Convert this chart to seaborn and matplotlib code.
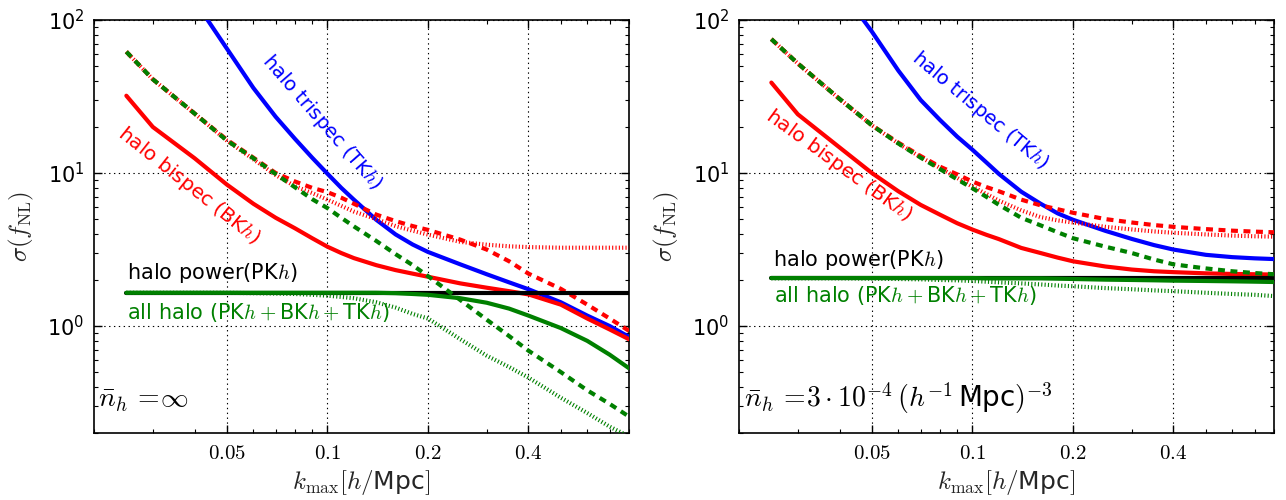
import numpy as np
import pandas as pd
import matplotlib
matplotlib.use("Agg")
import matplotlib.pyplot as plt
import seaborn as sns
from matplotlib.ticker import FixedLocator, FixedFormatter, LogLocator, NullFormatter

# ---------------- data ----------------
k = [0.025, 0.03, 0.04, 0.05, 0.06, 0.07, 0.08, 0.09, 0.1, 0.11, 0.12, 0.14, 0.16, 0.18,
     0.2, 0.25, 0.3, 0.35, 0.4, 0.5, 0.6, 0.7, 0.8]

# left panel: nbar_h = infinity
L_tk       = [600, 336, 134, 65, 36, 23.3, 16.7, 12.6, 9.9, 8.0, 6.7, 4.95, 3.97, 3.41,
              3.05, 2.53, 2.18, 1.93, 1.74, 1.43, 1.17, 1.0, 0.85]
L_bk       = [32, 20, 12.5, 8.4, 6.3, 5.1, 4.35, 3.75, 3.3, 3.0, 2.78, 2.5, 2.32, 2.2,
              2.1, 1.9, 1.78, 1.69, 1.61, 1.38, 1.12, 0.95, 0.82]
L_bk_dash  = [62, 41, 24.5, 16.5, 12.6, 10.0, 8.8, 8.0, 7.5, 6.9, 6.3, 5.35, 4.85, 4.5,
              4.25, 3.67, 3.16, 2.65, 2.2, 1.75, 1.38, 1.12, 0.93]
L_bk_dot   = [62, 41, 24.5, 16.3, 12.3, 9.7, 8.2, 7.4, 6.7, 6.1, 5.6, 5.0, 4.5, 4.2,
              3.96, 3.55, 3.4, 3.32, 3.28, 3.25, 3.25, 3.25, 3.25]
L_pk       = [1.65] * 23
L_all      = [1.65, 1.65, 1.65, 1.65, 1.65, 1.65, 1.65, 1.65, 1.65, 1.65, 1.65, 1.65, 1.64, 1.62,
              1.6, 1.52, 1.42, 1.3, 1.17, 0.97, 0.8, 0.65, 0.53]
L_all_dash = [62, 41, 24.5, 16.3, 12.5, 9.85, 8.06, 6.75, 5.9, 5.1, 4.48, 3.6, 2.95, 2.5,
              2.12, 1.48, 1.1, 0.86, 0.69, 0.5, 0.38, 0.31, 0.256]
L_all_dot  = [1.65, 1.65, 1.65, 1.65, 1.64, 1.63, 1.62, 1.6, 1.58, 1.55, 1.52, 1.43, 1.32, 1.2,
              1.12, 0.82, 0.64, 0.54, 0.46, 0.34, 0.27, 0.22, 0.19]

# right panel: nbar_h = 3e-4 (h^-1 Mpc)^-3
R_tk       = [700, 396, 163, 84, 46.7, 30.0, 22.2, 17.3, 14.2, 11.75, 9.87, 7.55, 6.3, 5.45,
              4.95, 4.19, 3.71, 3.38, 3.16, 2.92, 2.82, 2.77, 2.74]
R_bk       = [39, 24.2, 14.7, 10, 7.6, 6.19, 5.34, 4.7, 4.27, 3.95, 3.7, 3.24, 3.0, 2.8,
              2.65, 2.45, 2.34, 2.28, 2.25, 2.21, 2.19, 2.18, 2.17]
R_bk_dash  = [75, 52, 30.5, 20.5, 15.8, 12.9, 11.0, 9.8, 8.8, 8.1, 7.6, 6.7, 6.15, 5.8,
              5.5, 5.0, 4.75, 4.57, 4.45, 4.3, 4.2, 4.14, 4.1]
R_bk_dot   = [75, 52, 30.5, 20.5, 15.6, 12.7, 10.8, 9.3, 8.15, 7.3, 6.6, 5.7, 5.15, 4.9,
              4.75, 4.45, 4.28, 4.15, 4.07, 3.97, 3.9, 3.86, 3.84]
R_pk       = [2.07] * 23
R_all      = [2.06, 2.06, 2.06, 2.06, 2.06, 2.06, 2.06, 2.06, 2.06, 2.05, 2.05, 2.05, 2.05, 2.04,
              2.03, 2.01, 2.0, 1.99, 1.98, 1.97, 1.96, 1.95, 1.94]
R_all_dash = [75, 52, 30.5, 20.5, 15.6, 12.6, 10.6, 9.1, 7.95, 7.0, 6.2, 5.1, 4.55, 4.1,
              3.75, 3.3, 3.0, 2.72, 2.53, 2.38, 2.28, 2.22, 2.18]
R_all_dot  = [2.05, 2.05, 2.05, 2.04, 2.03, 2.02, 2.0, 1.99, 1.97, 1.95, 1.93, 1.9, 1.87, 1.84,
              1.82, 1.77, 1.74, 1.71, 1.69, 1.65, 1.62, 1.6, 1.57]

xtick_vals = [0.05, 0.1, 0.2, 0.4]
xtick_labels = ["$0.05$", "$0.1$", "$0.2$", "$0.4$"]

panels = [
    dict(tk=L_tk, bk=L_bk, bkd=L_bk_dash, bko=L_bk_dot, pk=L_pk, al=L_all, ald=L_all_dash, alo=L_all_dot,
         nbar=r"$\bar{n}_h\,=\!\infty$"),
    dict(tk=R_tk, bk=R_bk, bkd=R_bk_dash, bko=R_bk_dot, pk=R_pk, al=R_all, ald=R_all_dash, alo=R_all_dot,
         nbar=r"$\bar{n}_h\,=\!3\cdot 10^{-4}\,(h^{-1}\,$Mpc$)^{-3}$"),
]

# text placement (axes fraction) per panel
txt = [
    dict(tk=(0.426, 0.753, -49), bk=(0.178, 0.598, -38.5), pw=(0.062, 0.387), al=(0.062, 0.291), nb=(0.008, 0.08)),
    dict(tk=(0.45, 0.782, -40), bk=(0.186, 0.649, -36), pw=(0.063, 0.419), al=(0.065, 0.334), nb=(0.010, 0.085)),
]

# ---------------- style ----------------
sns.set_style("ticks")
plt.rcParams.update({
    "font.family": ["DejaVu Sans"],
    "mathtext.fontset": "cm",
    "lines.scale_dashes": False,
    "axes.linewidth": 1.2,
    "xtick.direction": "in", "ytick.direction": "in",
    "xtick.top": True, "ytick.right": True,
    "xtick.major.size": 6, "ytick.major.size": 6,
    "xtick.minor.size": 3, "ytick.minor.size": 3,
    "xtick.minor.visible": True, "ytick.minor.visible": True,
    "axes.edgecolor": "black",
    "xtick.color": "black", "ytick.color": "black",
})

RED, BLUE, GREEN, BLACK = "#ff0000", "#0000ff", "#008000", "#000000"
DASH = (0, (5, 4))
DOT = (0, (0.8, 1.6))
LW = 3.0

fig = plt.figure(figsize=(12.86, 5.0), dpi=100)
axes = [fig.add_axes([94 / 1286, 67 / 500, 535 / 1286, 413 / 500]),
        fig.add_axes([739 / 1286, 67 / 500, 535 / 1286, 413 / 500])]

for ax, p, t in zip(axes, panels, txt):
    def line(vals, color, ls, z):
        sns.lineplot(x=k, y=vals, ax=ax, color=color, linestyle=ls, linewidth=LW,
                     errorbar=None, zorder=z)
    line(p["tk"], BLUE, "-", 3)
    line(p["bk"], RED, "-", 3)
    line(p["bkd"], RED, DASH, 3)
    line(p["bko"], RED, DOT, 3)
    line(p["pk"], BLACK, "-", 3)
    line(p["al"], GREEN, "-", 4)
    line(p["ald"], GREEN, DASH, 4)
    line(p["alo"], GREEN, DOT, 4)

    ax.set_xscale("log")
    ax.set_yscale("log")
    ax.set_xlim(0.02, 0.8)
    ax.set_ylim(0.2, 100)
    ax.xaxis.set_major_locator(FixedLocator(xtick_vals))
    ax.xaxis.set_major_formatter(FixedFormatter(xtick_labels))
    ax.xaxis.set_minor_locator(LogLocator(base=10, subs=np.arange(2, 10) * 1.0))
    ax.xaxis.set_minor_formatter(NullFormatter())
    ax.yaxis.set_major_locator(LogLocator(base=10, numticks=10))
    ax.yaxis.set_minor_locator(LogLocator(base=10, subs=np.arange(2, 10) * 1.0, numticks=20))
    ax.yaxis.set_minor_formatter(NullFormatter())
    ax.tick_params(axis="both", which="major", labelsize=15, pad=7, width=1)
    ax.tick_params(axis="both", which="minor", width=0.8)
    ax.grid(True, which="major", color="black", linestyle=(0, (1, 2.5)), linewidth=0.8)
    for s in ax.spines.values():
        s.set_visible(True)
        s.set_linewidth(1.2)

    ax.set_xlabel(r"$k_{\rm max}[h/$Mpc$]$", fontsize=18, labelpad=4)
    ax.set_ylabel(r"$\sigma(f_{\rm NL})$", fontsize=18, labelpad=8)

    ax.text(t["tk"][0], t["tk"][1], r"halo trispec (TK$h$)", color=BLUE, fontsize=14,
            rotation=t["tk"][2], rotation_mode="anchor", ha="center", va="center",
            transform=ax.transAxes)
    ax.text(t["bk"][0], t["bk"][1], r"halo bispec (BK$h$)", color=RED, fontsize=14.5,
            rotation=t["bk"][2], rotation_mode="anchor", ha="center", va="center",
            transform=ax.transAxes)
    ax.text(t["pw"][0], t["pw"][1], r"halo power(PK$h$)", color=BLACK, fontsize=15,
            ha="left", va="center", transform=ax.transAxes)
    ax.text(t["al"][0], t["al"][1], r"all halo (PK$h+$BK$h+$TK$h$)", color=GREEN, fontsize=15,
            ha="left", va="center", transform=ax.transAxes)
    ax.text(t["nb"][0], t["nb"][1], p["nbar"], color=BLACK, fontsize=20,
            ha="left", va="center", transform=ax.transAxes)

fig.savefig("out.png", dpi=100)
